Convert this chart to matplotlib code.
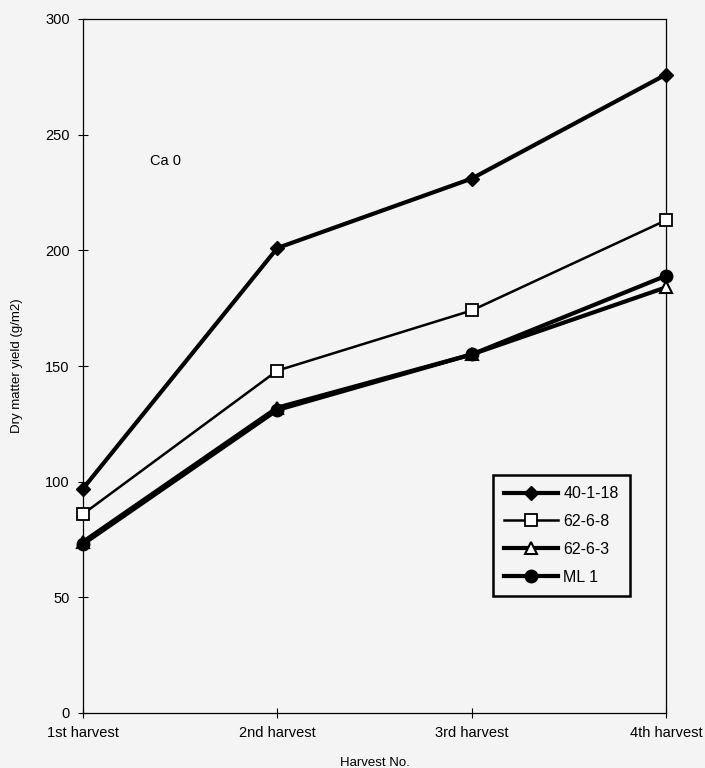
import matplotlib
matplotlib.use("Agg")
import matplotlib.pyplot as plt

categories = ["1st harvest", "2nd harvest", "3rd harvest", "4th harvest"]
s_40_1_18 = [97, 201, 231, 276]
s_62_6_8 = [86, 148, 174, 213]
s_62_6_3 = [74, 132, 155, 184]
s_ml1 = [73, 131, 155, 189]
yticks = [0, 50, 100, 150, 200, 250, 300]

plt.rcParams['font.family'] = ['Liberation Sans', 'DejaVu Sans']
bg = '#f4f4f4'
fig = plt.figure(figsize=(7.05, 7.68), dpi=100, facecolor=bg)
ax = fig.add_axes([83/705, 1 - 713/768, (666-83)/705, (713-19)/768])
ax.set_facecolor(bg)
x = list(range(len(categories)))

ax.plot(x, s_40_1_18, color='black', lw=3, marker='D', ms=7.5, mfc='black', mec='black', label='40-1-18', clip_on=False, zorder=3)
ax.plot(x, s_62_6_8, color='black', lw=1.8, marker='s', ms=9, mfc='white', mec='black', mew=1.3, label='62-6-8', clip_on=False, zorder=4)
ax.plot(x, s_62_6_3, color='black', lw=3, marker='^', ms=9, mfc='white', mec='black', mew=1.5, label='62-6-3', clip_on=False, zorder=3)
ax.plot(x, s_ml1, color='black', lw=3, marker='o', ms=9, mfc='black', mec='black', label='ML 1', clip_on=False, zorder=3)

ax.set_xlim(0, 3)
ax.set_ylim(0, 300)
ax.set_xticks(x)
ax.set_xticklabels(categories, fontsize=10.5)
ax.set_yticks(yticks)
ax.tick_params(axis='both', direction='inout', length=7, width=0.8, labelsize=10.5, pad=6)
for sp in ax.spines.values():
    sp.set_linewidth(0.9)
ax.set_ylabel('Dry matter yield (g/m2)', fontsize=9.5, labelpad=16)
ax.set_xlabel('Harvest No.', fontsize=9.5, labelpad=12)
ax.text(0.345, 237, 'Ca 0', fontsize=10.5)

leg = ax.legend(loc='upper left', bbox_to_anchor=((493-83)/583, (713-475)/694), frameon=True,
                borderaxespad=0, fancybox=False, edgecolor='black', facecolor=bg, framealpha=1,
                fontsize=11.5, handlelength=3.4, borderpad=0.7, labelspacing=0.8, handletextpad=0.3)
leg.get_frame().set_linewidth(1.8)

fig.savefig('out.png', dpi=100, facecolor=bg)
